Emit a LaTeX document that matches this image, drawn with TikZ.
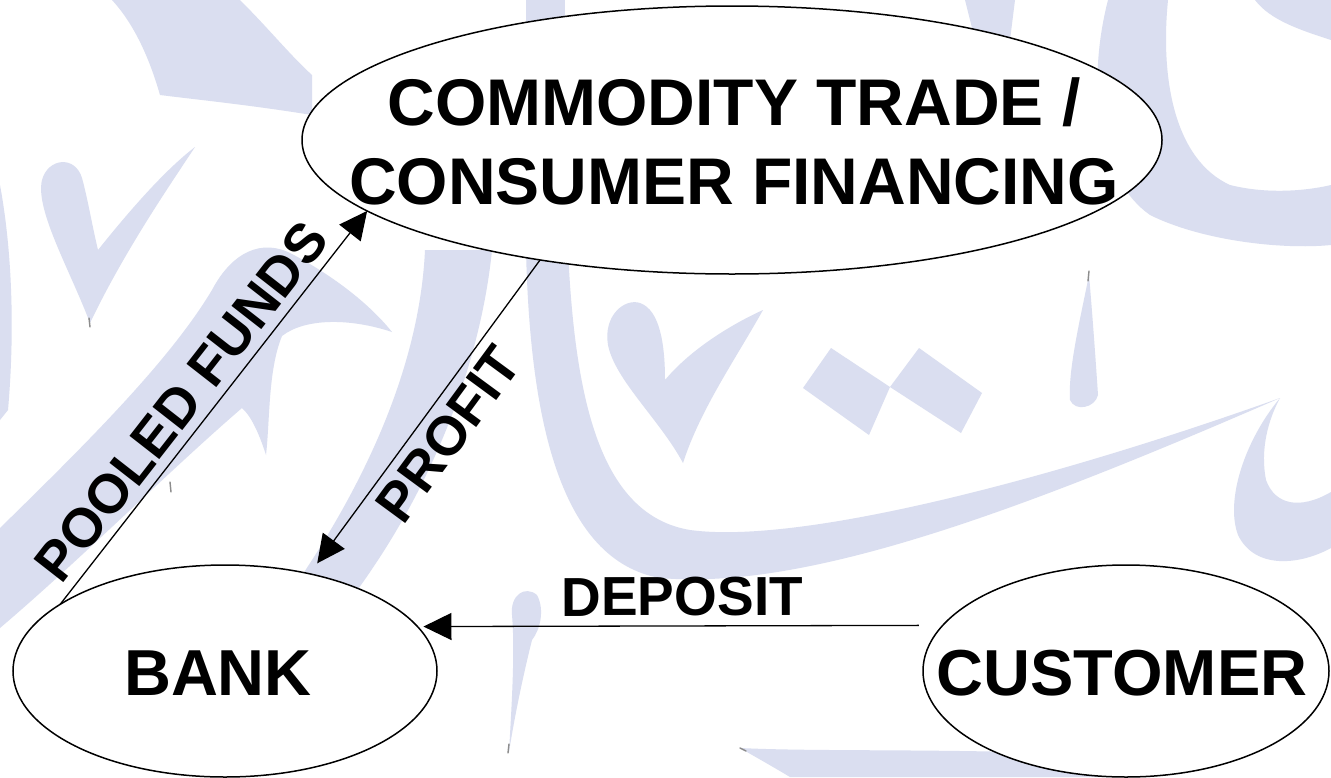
\documentclass[tikz,border=0pt]{standalone}
\usepackage{fontspec}
\setmainfont{Liberation Sans}
\usetikzlibrary{shapes.geometric,arrows.meta}
\definecolor{wm}{RGB}{218,222,240}
\begin{document}
\begin{tikzpicture}[x=1pt,y=-1pt,
  oval/.style={ellipse, draw=black, line width=1.5pt, fill=white, inner sep=0pt, outer sep=0pt},
  bigtext/.style={font=\bfseries\fontsize{66}{79}\selectfont, inner sep=0pt, align=center},
  nametext/.style={font=\bfseries\fontsize{65}{78}\selectfont, inner sep=0pt},
  flowlabel/.style={font=\bfseries\fontsize{55}{66}\selectfont, inner sep=0pt, sloped},
  flow/.style={line width=1.3pt, -{Triangle[length=28pt,width=27pt]}},
  penmark/.style={draw=black!45, line width=1.4pt, line cap=round}]
\useasboundingbox (0,0) rectangle (1331,777);
\clip (0,0) rectangle (1331,777);
\fill[white] (0,0) rectangle (1331,777);

% calligraphy watermark
\fill[wm] (112,0) -- (240,0) .. controls (270,30) and (290,55) .. (312,75) -- (312,115)
  .. controls (250,105) and (200,100) .. (160,95) .. controls (150,60) and (135,25) .. (112,0) -- cycle;
\fill[wm] (90,323) .. controls (70,270) and (35,210) .. (42,180) .. controls (48,158) and (75,155) .. (82,178)
  .. controls (88,200) and (92,225) .. (98,250) .. controls (130,210) and (165,170) .. (195,147)
  .. controls (170,185) and (125,250) .. (90,323) -- cycle;
\fill[wm] (0,528) .. controls (90,440) and (170,360) .. (212,290)
  .. controls (232,252) and (262,238) .. (292,254)
  .. controls (330,274) and (368,302) .. (392,332)
  .. controls (350,318) and (305,318) .. (282,336)
  .. controls (268,370) and (270,420) .. (266,455)
  .. controls (258,430) and (250,415) .. (242,408)
  .. controls (170,470) and (80,560) .. (0,628) -- cycle;
\fill[wm] (0,185) .. controls (12,250) and (15,330) .. (8,410) -- (0,420) -- cycle;
\fill[wm] (425,250) -- (492,250) .. controls (482,350) and (440,480) .. (350,600) -- (285,600)
  .. controls (370,480) and (420,360) .. (425,250) -- cycle;
\fill[wm] (526,0) -- (565,0) -- (565,40) -- (526,40) -- cycle;
\fill[wm] (526,250) .. controls (530,420) and (560,560) .. (660,578)
  .. controls (800,590) and (1000,520) .. (1280,398)
  .. controls (1050,480) and (800,545) .. (690,530)
  .. controls (600,515) and (575,400) .. (568,250) -- cycle;
\fill[wm] (1280,398) .. controls (1245,440) and (1225,500) .. (1238,535)
  .. controls (1255,570) and (1300,565) .. (1331,548) -- (1331,492)
  .. controls (1300,510) and (1275,505) .. (1266,480) .. controls (1260,450) and (1268,420) .. (1280,398) -- cycle;
\fill[wm] (683,463) .. controls (660,420) and (615,380) .. (608,345) .. controls (603,315) and (625,298) .. (640,303)
  .. controls (660,310) and (665,345) .. (665,380) .. controls (690,350) and (730,325) .. (763,310)
  .. controls (735,360) and (700,410) .. (683,463) -- cycle;
\fill[wm] (831,348) -- (890,387) -- (869,435) -- (803,388) -- cycle;
\fill[wm] (919,348) -- (982,393) -- (961,433) -- (890,387) -- cycle;
\fill[wm] (1089,275) .. controls (1080,320) and (1068,370) .. (1070,400) .. controls (1075,412) and (1095,408) .. (1098,395)
  .. controls (1095,350) and (1092,310) .. (1089,275) -- cycle;
\fill[wm] (965,0) -- (1015,0) -- (1010,40) -- (975,40) -- cycle;
\fill[wm] (1108,0) -- (1168,0) .. controls (1160,80) and (1175,160) .. (1230,185)
  .. controls (1270,195) and (1310,190) .. (1331,185) -- (1331,245)
  .. controls (1280,250) and (1200,240) .. (1150,215) .. controls (1100,180) and (1085,90) .. (1108,0) -- cycle;
\fill[wm] (1255,0) -- (1331,0) -- (1331,40) .. controls (1300,30) and (1270,20) .. (1255,0) -- cycle;
\fill[wm] (509,752) .. controls (512,700) and (515,650) .. (512,615) .. controls (510,595) and (525,585) .. (537,595)
  .. controls (545,610) and (540,630) .. (532,640) .. controls (522,680) and (514,720) .. (509,752) -- cycle;
\fill[wm] (740,748) .. controls (820,752) and (950,748) .. (1100,755) -- (1100,777) -- (790,777)
  .. controls (770,765) and (752,755) .. (740,748) -- cycle;
\draw[penmark] (89,318) -- (90,327);
\draw[penmark] (170,482) -- (171,492);
\draw[penmark] (509,744) -- (508,753);
\draw[penmark] (740,748) -- (746,751);
\draw[penmark] (1089,271) -- (1088,281);

% the three parties
\node[oval, minimum width=860pt, minimum height=268pt] (com) at (732,140) {};
\node[oval, minimum width=424pt, minimum height=212pt] (bank) at (225,671) {};
\node[oval, minimum width=406pt, minimum height=212pt] (cust) at (1126,671) {};
\node[bigtext] (comtext) at (734,141) {COMMODITY TRADE /\\CONSUMER FINANCING};
\node[nametext] (banktext) at (218,673.5) {BANK};
\node[nametext] (custtext) at (1122,673.5) {CUSTOMER};

% flows of money
\draw[flow] (bank.158) -- node[flowlabel, above=9pt, pos=0.47] (lblpool) {POOLED FUNDS} (com.191);
\draw[flow, shorten >=13pt] (com.212.5) -- node[flowlabel, below=9pt, pos=0.5] (lblprofit) {PROFIT} (bank.49.3);
\draw[flow, shorten <=24pt, shorten >=6pt] (cust.166.24) -- node[flowlabel, above=9pt, pos=0.496] (lbldep) {DEPOSIT} (bank.13.19);
\end{tikzpicture}
\end{document}
